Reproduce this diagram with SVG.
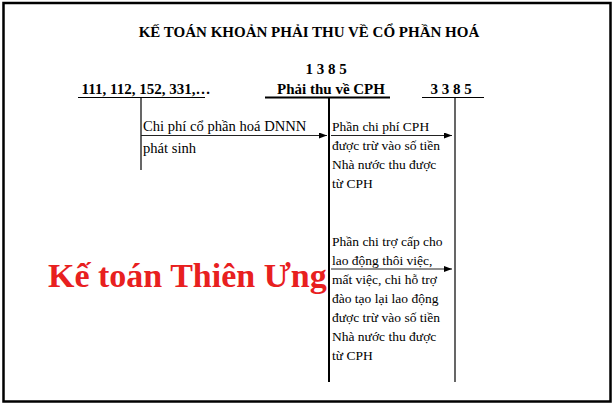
<svg xmlns="http://www.w3.org/2000/svg" width="616" height="405" viewBox="0 0 616 405">
<defs>
<marker id="ah" markerWidth="8" markerHeight="6" refX="8" refY="3" orient="auto" markerUnits="userSpaceOnUse">
<path d="M0,0 L8,3 L0,6 Z" fill="#000"/>
</marker>
<style>
.t{font-family:"Liberation Serif","Times New Roman",serif;font-size:13.5px;fill:#000}
.t2{font-family:"Liberation Serif","Times New Roman",serif;font-size:14.6px;fill:#000}
.b{font-family:"Liberation Serif","Times New Roman",serif;font-weight:bold;fill:#000}
.ln{stroke:#000;stroke-width:1.2;fill:none}
.thick{stroke:#000;stroke-width:2;fill:none}
.arr{stroke:#222;stroke-width:1;fill:none;marker-end:url(#ah)}
</style>
</defs>
<rect width="616" height="405" fill="#fff"/>
<rect x="3.5" y="3" width="607" height="398.5" fill="none" stroke="#000" stroke-width="2.5"/>
<text class="b" x="309" y="37" font-size="15" text-anchor="middle">KẾ TOÁN KHOẢN PHẢI THU VỀ CỔ PHẦN HOÁ</text>

<g id="acc111">
<text class="b" x="146" y="94" font-size="15" text-anchor="middle">111, 112, 152, 331,…</text>
<line class="ln" x1="78" y1="97.5" x2="205" y2="97.5"/>
<line class="ln" x1="141" y1="97.5" x2="141" y2="170"/>
</g>
<g id="acc1385">
<text class="b" x="326" y="74" font-size="15" text-anchor="middle">1 3 8 5</text>
<text class="b" x="331" y="94" font-size="15" text-anchor="middle">Phải thu về CPH</text>
<line class="thick" x1="265" y1="97.5" x2="390" y2="97.5"/>
<line class="thick" x1="329" y1="97.5" x2="329" y2="382"/>
</g>
<g id="acc3385">
<text class="b" x="451" y="94" font-size="15" text-anchor="middle">3 3 8 5</text>
<line class="ln" x1="422" y1="97.5" x2="484" y2="97.5"/>
<line class="ln" x1="455" y1="97.5" x2="455" y2="382"/>
</g>

<g id="connectors">
<line class="arr" x1="141" y1="135.5" x2="327" y2="135.5"/>
<line class="arr" x1="331" y1="135.5" x2="452" y2="135.5"/>
<line class="arr" x1="331" y1="269" x2="452" y2="269"/>
</g>

<g id="label1">
<text class="t2" x="143" y="131">Chi phí cổ phần hoá DNNN</text>
<text class="t2" x="143" y="153">phát sinh</text>
</g>
<g id="label2">
<text class="t" x="332" y="131">Phần chi phí CPH</text>
<text class="t" x="332" y="150">được trừ vào số tiền</text>
<text class="t" x="332" y="169">Nhà nước thu được</text>
<text class="t" x="332" y="188">từ CPH</text>
</g>
<g id="label3">
<text class="t" x="332" y="246">Phần chi trợ cấp cho</text>
<text class="t" x="332" y="265">lao động thôi việc,</text>
<text class="t" x="332" y="284">mất việc, chi hỗ trợ</text>
<text class="t" x="332" y="303">đào tạo lại lao động</text>
<text class="t" x="332" y="322">được trừ vào số tiền</text>
<text class="t" x="332" y="341">Nhà nước thu được</text>
<text class="t" x="332" y="360">từ CPH</text>
</g>

<text class="b" x="48" y="287" font-size="34" style="fill:#e8201f">Kế toán Thiên Ưng</text>
</svg>
